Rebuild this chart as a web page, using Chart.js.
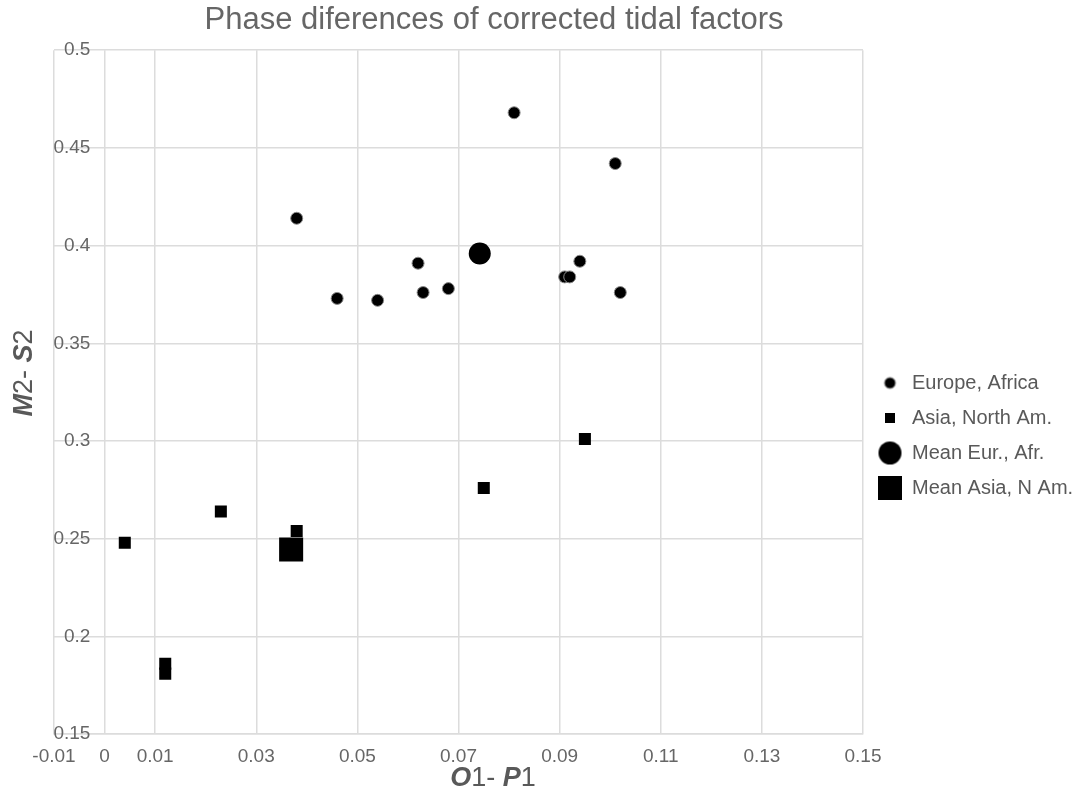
<!DOCTYPE html>
<html>
<head>
<meta charset="utf-8">
<script src="https://cdn.jsdelivr.net/npm/chart.js@4.4.1/dist/chart.umd.min.js"></script>
<style>
html,body{margin:0;padding:0;background:#fff;}
#wrap{width:1074px;height:796px;position:relative;}
</style>
</head>
<body>
<div id="wrap"><canvas id="c" width="1074" height="796"></canvas></div>
<script>
// ---- data ----
const chartTitle = 'Phase diferences of corrected tidal factors';
const seriesNames = ['Europe, Africa', 'Asia, North Am.', 'Mean Eur., Afr.', 'Mean Asia, N Am.'];

const europeX = [0.081, 0.101, 0.038, 0.062, 0.094, 0.091, 0.092, 0.046, 0.054, 0.063, 0.068, 0.102];
const europeY = [0.468, 0.442, 0.414, 0.391, 0.392, 0.384, 0.384, 0.373, 0.372, 0.376, 0.378, 0.376];

const asiaX = [0.004, 0.012, 0.012, 0.023, 0.038, 0.075, 0.095];
const asiaY = [0.248, 0.186, 0.181, 0.264, 0.254, 0.276, 0.301];

const meanEurX = [0.0742];
const meanEurY = [0.396];

const meanAsiaX = [0.0369];
const meanAsiaY = [0.2445];

const xTickValues = [-0.01, 0, 0.01, 0.03, 0.05, 0.07, 0.09, 0.11, 0.13, 0.15];
const xTickLabels = ['-0.01', '0', '0.01', '0.03', '0.05', '0.07', '0.09', '0.11', '0.13', '0.15'];
const yTickValues = [0.15, 0.2, 0.25, 0.3, 0.35, 0.4, 0.45, 0.5];
const yTickLabels = ['0.15', '0.2', '0.25', '0.3', '0.35', '0.4', '0.45', '0.5'];

// axis titles: [text, boldItalic]
const xAxisTitleParts = [['O', true], ['1- ', false], ['P', true], ['1', false]];
const yAxisTitleParts = [['M', true], ['2- ', false], ['S', true], ['2', false]];

// ---- helpers ----
function zip(xs, ys) { return xs.map((x, i) => ({x: x, y: ys[i]})); }

function makeMarker(shape, size, border) {
  const pad = 2;
  const c = document.createElement('canvas');
  c.width = size + pad * 2; c.height = size + pad * 2;
  const g = c.getContext('2d');
  g.fillStyle = '#000';
  if (shape === 'circle') {
    g.beginPath();
    g.arc(c.width / 2, c.height / 2, size / 2, 0, Math.PI * 2);
    g.fill();
    if (border) { g.strokeStyle = '#8a8a8a'; g.lineWidth = 1; g.stroke(); }
  } else {
    g.fillRect(pad, pad, size, size);
  }
  return c;
}

const legendMarkers = [
  makeMarker('circle', 11, true),
  makeMarker('rect', 10, false),
  makeMarker('circle', 23, false),
  makeMarker('rect', 24, false)
];

const gridColor = '#dcdcdc';
const tickColor = '#666666';
const baseFont = "'Liberation Sans', Arial, Helvetica, sans-serif";

// layout tweaks (pixels / axis anchor)
const titleCenterX = 494;
const legendShiftY = 46;
const yLabelAnchorX = -0.0028;

const placementPlugin = {
  id: 'placement',
  afterLayout(chart) {
    const t = chart.titleBlock;
    if (t) {
      const w = t.right - t.left;
      t.left = titleCenterX - w / 2;
      t.right = titleCenterX + w / 2;
    }
    const lg = chart.legend;
    if (lg) {
      lg.top += legendShiftY;
      lg.bottom += legendShiftY;
    }
  }
};

const axisTitlePlugin = {
  id: 'axisTitles',
  afterDraw(chart) {
    const ctx = chart.ctx;
    const size = 27;
    function drawParts(parts, cx, cy, rot) {
      ctx.save();
      ctx.translate(cx, cy);
      ctx.rotate(rot);
      ctx.fillStyle = '#595959';
      ctx.textBaseline = 'middle';
      ctx.textAlign = 'left';
      let total = 0;
      const widths = parts.map(p => {
        ctx.font = (p[1] ? 'italic bold ' : '') + size + 'px ' + baseFont;
        const w = ctx.measureText(p[0]).width;
        total += w;
        return w;
      });
      let x = -total / 2;
      parts.forEach((p, i) => {
        ctx.font = (p[1] ? 'italic bold ' : '') + size + 'px ' + baseFont;
        ctx.fillText(p[0], x, 0);
        x += widths[i];
      });
      ctx.restore();
    }
    drawParts(xAxisTitleParts, 493, 779, 0);
    drawParts(yAxisTitleParts, 25, 373, -Math.PI / 2);
  }
};

Chart.defaults.font.family = baseFont;

new Chart(document.getElementById('c'), {
  type: 'scatter',
  data: {
    datasets: [
      {
        label: seriesNames[0],
        data: zip(europeX, europeY),
        pointStyle: 'circle',
        pointRadius: 6,
        pointBackgroundColor: '#000',
        pointBorderColor: '#8a8a8a',
        pointBorderWidth: 1
      },
      {
        label: seriesNames[1],
        data: zip(asiaX, asiaY),
        pointStyle: 'rect',
        pointRadius: 8.5,
        pointBackgroundColor: '#000',
        pointBorderColor: '#000',
        pointBorderWidth: 0
      },
      {
        label: seriesNames[2],
        data: zip(meanEurX, meanEurY),
        pointStyle: 'circle',
        pointRadius: 11,
        pointBackgroundColor: '#000',
        pointBorderColor: '#000',
        pointBorderWidth: 0
      },
      {
        label: seriesNames[3],
        data: zip(meanAsiaX, meanAsiaY),
        pointStyle: 'rect',
        pointRadius: 17,
        pointBackgroundColor: '#000',
        pointBorderColor: '#000',
        pointBorderWidth: 0
      }
    ]
  },
  options: {
    responsive: false,
    animation: false,
    devicePixelRatio: 1,
    layout: { padding: { left: 54, right: 0, top: 0, bottom: 17 } },
    plugins: {
      tooltip: { enabled: false },
      title: {
        display: true,
        text: chartTitle,
        color: '#666666',
        font: { size: 31, weight: 'normal' },
        padding: { top: 2, bottom: 11 }
      },
      legend: {
        display: true,
        position: 'right',
        align: 'center',
        maxWidth: 211,
        labels: {
          usePointStyle: true,
          pointStyleWidth: 24,
          padding: 15,
          color: '#595959',
          font: { size: 20 },
          generateLabels(chart) {
            return chart.data.datasets.map((ds, i) => ({
              text: ds.label,
              pointStyle: legendMarkers[i],
              fillStyle: '#000',
              strokeStyle: '#000',
              lineWidth: 0,
              hidden: false,
              datasetIndex: i,
              fontColor: '#595959'
            }));
          }
        }
      }
    },
    scales: {
      x: {
        type: 'linear',
        min: -0.01,
        max: 0.15,
        afterBuildTicks(scale) { scale.ticks = xTickValues.map(v => ({value: v})); },
        ticks: {
          autoSkip: false,
          maxRotation: 0,
          color: tickColor,
          font: { size: 19 },
          padding: 11,
          callback(v, i) { return xTickLabels[i]; }
        },
        grid: { color: gridColor, lineWidth: 1.5, drawTicks: false },
        border: { color: gridColor, width: 1.5 }
      },
      y: {
        type: 'linear',
        position: { x: yLabelAnchorX },
        min: 0.15,
        max: 0.5,
        afterBuildTicks(scale) { scale.ticks = yTickValues.map(v => ({value: v})); },
        ticks: {
          autoSkip: false,
          color: tickColor,
          font: { size: 19 },
          callback(v, i) { return yTickLabels[i]; }
        },
        grid: { color: gridColor, lineWidth: 1.5, drawTicks: false },
        border: { display: false }
      }
    }
  },
  plugins: [placementPlugin, axisTitlePlugin]
});
</script>
</body>
</html>
